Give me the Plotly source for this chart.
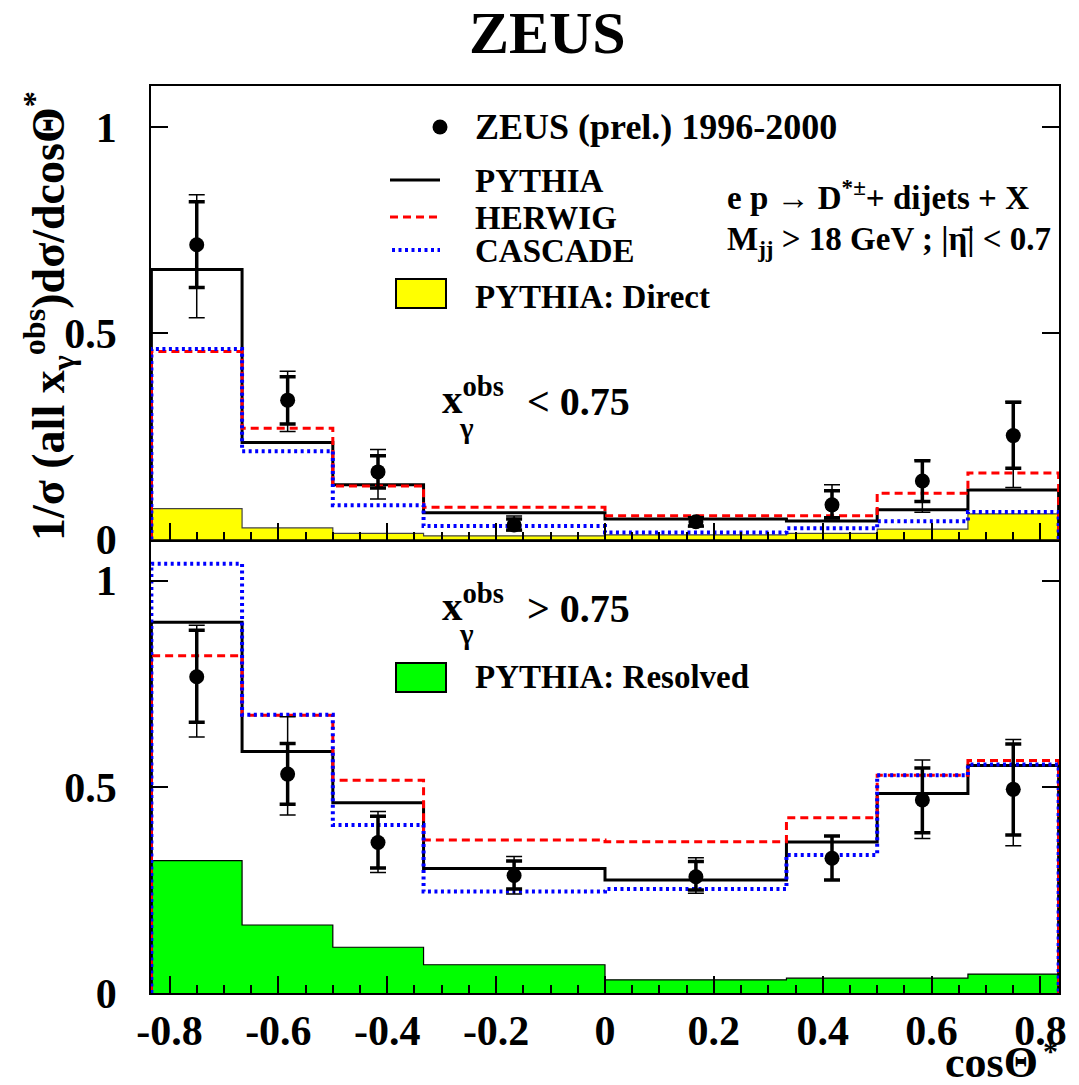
import plotly.graph_objects as go

# ---------------- data ----------------
edges = [-0.8333, -0.6667, -0.5, -0.3333, 0.0, 0.3333, 0.5, 0.6667, 0.8333]
centers = [-0.75, -0.583, -0.417, -0.167, 0.167, 0.417, 0.583, 0.75]

# upper panel: x_gamma^obs < 0.75
lo_pythia = [0.655, 0.235, 0.133, 0.065, 0.050, 0.045, 0.072, 0.120]
lo_herwig = [0.456, 0.270, 0.130, 0.078, 0.0575, 0.0575, 0.112, 0.161]
lo_cascade = [0.462, 0.214, 0.083, 0.033, 0.017, 0.027, 0.044, 0.067]
lo_direct = [0.075, 0.028, 0.015, 0.009, 0.011, 0.015, 0.025, 0.062]
lo_data = [0.715, 0.338, 0.164, 0.035, 0.043, 0.084, 0.142, 0.252]
lo_stat_up = [0.104, 0.057, 0.039, 0.015, 0.010, 0.034, 0.049, 0.081]
lo_stat_dn = [0.104, 0.058, 0.039, 0.012, 0.010, 0.031, 0.050, 0.079]
lo_tot_up = [0.121, 0.070, 0.054, 0.022, 0.012, 0.049, 0.051, 0.083]
lo_tot_dn = [0.177, 0.076, 0.066, 0.014, 0.012, 0.034, 0.076, 0.126]

# lower panel: x_gamma^obs > 0.75
hi_pythia = [0.899, 0.586, 0.4615, 0.302, 0.274, 0.366, 0.484, 0.552]
hi_herwig = [0.818, 0.674, 0.516, 0.371, 0.367, 0.425, 0.528, 0.564]
hi_cascade = [1.041, 0.675, 0.4075, 0.246, 0.252, 0.335, 0.528, 0.554]
hi_resolved = [0.321, 0.165, 0.111, 0.0685, 0.032, 0.036, 0.036, 0.046]
hi_data = [0.767, 0.531, 0.365, 0.285, 0.282, 0.327, 0.468, 0.494]
hi_stat_up = [0.113, 0.074, 0.064, 0.035, 0.037, 0.054, 0.078, 0.110]
hi_stat_dn = [0.110, 0.073, 0.062, 0.033, 0.032, 0.053, 0.079, 0.111]
hi_tot_up = [0.125, 0.139, 0.075, 0.046, 0.046, 0.054, 0.097, 0.121]
hi_tot_dn = [0.146, 0.099, 0.073, 0.045, 0.040, 0.053, 0.093, 0.137]

x_ticks = [-0.8, -0.6, -0.4, -0.2, 0, 0.2, 0.4, 0.6, 0.8]
x_ticktext = ["-0.8", "-0.6", "-0.4", "-0.2", "0", "0.2", "0.4", "0.6", "0.8"]
y_ticks = [0, 0.5, 1]
y_ticktext = ["0", "0.5", "1"]

# ---------------- layout constants ----------------
W, H = 1079, 1085
ML, MR, MT, MB = 151, 20, 86, 92
PW = W - ML - MR
PH = H - MT - MB
FONT = "Liberation Serif, Times New Roman, serif"


def px(x):
    return (x - ML) / PW


def py(y):
    return (H - MB - y) / PH


def step(vals):
    xs = [edges[0]] + edges[:-1] + [edges[-1], edges[-1]]
    ys = [0] + list(vals) + [vals[-1], 0]
    return xs, ys


fig = go.Figure()


def add_panel(xa, ya, fillv, fillcol, fillline, py_, hw_, cs_, dat, su, sd, tu, td):
    xs, ys = step(fillv)
    fig.add_trace(go.Scatter(x=xs, y=ys, mode="lines", line=dict(shape="hv", color=fillline, width=1.2),
                             fill="tozeroy", fillcolor=fillcol, xaxis=xa, yaxis=ya, showlegend=False))
    xs, ys = step(py_)
    fig.add_trace(go.Scatter(x=xs, y=ys, mode="lines", line=dict(shape="hv", color="black", width=3),
                             xaxis=xa, yaxis=ya, showlegend=False))
    xs, ys = step(hw_)
    fig.add_trace(go.Scatter(x=xs, y=ys, mode="lines", line=dict(shape="hv", color="#ff0000", width=3, dash="8px,5px"),
                             xaxis=xa, yaxis=ya, showlegend=False))
    xs, ys = step(cs_)
    fig.add_trace(go.Scatter(x=xs, y=ys, mode="lines", line=dict(shape="hv", color="#0000ff", width=4, dash="3px,3.5px"),
                             xaxis=xa, yaxis=ya, showlegend=False))
    # total errors (thin)
    fig.add_trace(go.Scatter(x=centers, y=dat, mode="markers", marker=dict(size=1, color="rgba(0,0,0,0)"),
                             error_y=dict(type="data", symmetric=False, array=tu, arrayminus=td,
                                          thickness=1.5, width=8, color="black"),
                             xaxis=xa, yaxis=ya, showlegend=False))
    # stat errors (thick) + points
    fig.add_trace(go.Scatter(x=centers, y=dat, mode="markers", marker=dict(size=15, color="black"),
                             error_y=dict(type="data", symmetric=False, array=su, arrayminus=sd,
                                          thickness=3.5, width=8, color="black"),
                             xaxis=xa, yaxis=ya, showlegend=False))


add_panel("x2", "y2", lo_direct, "#ffff00", "#444444", lo_pythia, lo_herwig, lo_cascade,
          lo_data, lo_stat_up, lo_stat_dn, lo_tot_up, lo_tot_dn)
add_panel("x", "y", hi_resolved, "#00ff00", "black", hi_pythia, hi_herwig, hi_cascade,
          hi_data, hi_stat_up, hi_stat_dn, hi_tot_up, hi_tot_dn)

xcommon = dict(range=[-0.834, 0.834], tickvals=x_ticks, ticktext=x_ticktext, ticks="inside", ticklen=17,
               tickwidth=1.5, tickcolor="black", showline=True, linewidth=1.5, linecolor="black", mirror=True,
               showgrid=False, zeroline=False,
               minor=dict(ticks="inside", ticklen=8, dtick=0.05, tick0=-0.8, tickwidth=1.5, tickcolor="black"),
               tickfont=dict(family=FONT, size=42, color="black", weight="bold"))
ycommon = dict(range=[0, 1.10], tickvals=y_ticks, ticktext=y_ticktext, ticks="inside", ticklen=17,
               tickwidth=1.5, tickcolor="black", showline=True, linewidth=1.5, linecolor="black",
               mirror="ticks", showgrid=False, zeroline=False, ticklabelstandoff=24,
               tickfont=dict(family=FONT, size=42, color="black", weight="bold"))

fig.update_layout(
    width=W, height=H, margin=dict(l=ML, r=MR, t=MT, b=MB),
    paper_bgcolor="white", plot_bgcolor="white",
    font=dict(family=FONT),
    xaxis=dict(anchor="y", domain=[0, 1], **xcommon),
    xaxis2=dict(anchor="y2", domain=[0, 1], matches="x", showticklabels=False, **xcommon),
    yaxis=dict(anchor="x", domain=[0, 0.5], **ycommon),
    yaxis2=dict(anchor="x2", domain=[0.5, 1], **ycommon),
    showlegend=False,
)

anns = []


def ann(text, x, y, size, xanchor="left", angle=0):
    anns.append(dict(text=text, x=px(x), y=py(y), xref="paper", yref="paper", xanchor=xanchor,
                     yanchor="middle", showarrow=False, textangle=angle,
                     font=dict(family=FONT, size=size, color="black", weight="bold")))


# title
ann("ZEUS", 547, 33, 60, xanchor="center")
# y title
ann("1/σ (all x<sub>γ</sub><sup>obs</sup>)dσ/dcosΘ<sup>*</sup>", 48, 316, 46, xanchor="center", angle=-90)
# x title
ann("cosΘ", 1040, 1062, 44, xanchor="right")
ann("*", 1050, 1050, 30, xanchor="center")

# upper legend
ann("ZEUS (prel.) 1996-2000", 473, 127, 36)
ann("PYTHIA", 473, 181, 33)
ann("HERWIG", 473, 218, 33)
ann("CASCADE", 473, 251, 33)
ann("PYTHIA: Direct", 473, 297, 33)
ann("e p → D<sup>*±</sup>+ dijets + X", 725, 195, 33)
ann("M<sub>jj</sub> > 18 GeV ; |η\u0304| < 0.7", 725, 241, 33)

# x_gamma labels
ann("x<sup>obs</sup>", 440, 396, 41)
ann("γ", 457, 428, 29)
ann("< 0.75", 525, 401, 40)

ann("x<sup>obs</sup>", 440, 603, 41)
ann("γ", 457, 634, 29)
ann("> 0.75", 525, 608, 40)
ann("PYTHIA: Resolved", 473, 677, 33)

shapes = []
# legend symbols
r = 7.5
shapes.append(dict(type="circle", xref="paper", yref="paper", x0=px(440 - r), x1=px(440 + r),
                   y0=py(127 + r), y1=py(127 - r), fillcolor="black", line=dict(color="black", width=0)))
shapes.append(dict(type="line", xref="paper", yref="paper", x0=px(390), x1=px(440), y0=py(180), y1=py(180),
                   line=dict(color="black", width=3)))
shapes.append(dict(type="line", xref="paper", yref="paper", x0=px(390), x1=px(440), y0=py(217), y1=py(217),
                   line=dict(color="#ff0000", width=3, dash="8px,5px")))
shapes.append(dict(type="line", xref="paper", yref="paper", x0=px(392), x1=px(440), y0=py(250), y1=py(250),
                   line=dict(color="#0000ff", width=4, dash="3px,3.5px")))
shapes.append(dict(type="rect", xref="paper", yref="paper", x0=px(396), x1=px(446), y0=py(308), y1=py(279),
                   fillcolor="#ffff00", line=dict(color="black", width=2)))
shapes.append(dict(type="rect", xref="paper", yref="paper", x0=px(396), x1=px(446), y0=py(692), y1=py(663),
                   fillcolor="#00ff00", line=dict(color="black", width=2)))

fig.update_layout(annotations=anns, shapes=shapes)
fig.write_html("out.html")
